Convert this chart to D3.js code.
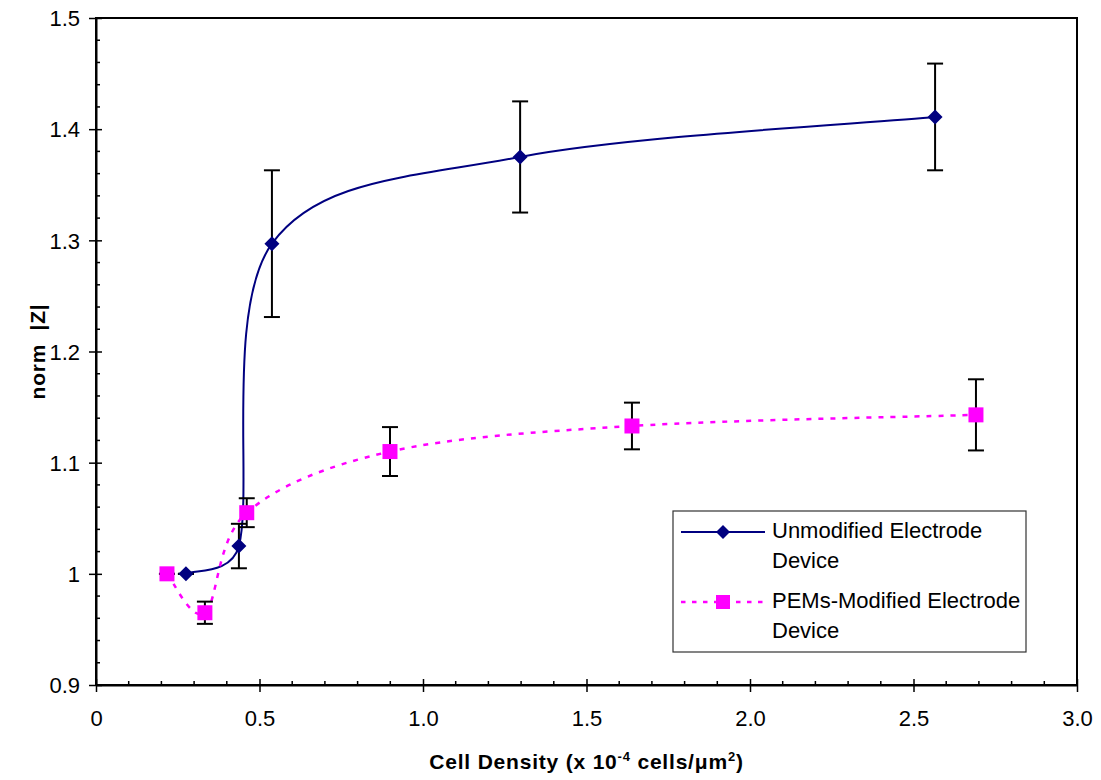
<!DOCTYPE html>
<html>
<head>
<meta charset="utf-8">
<script src="https://cdn.jsdelivr.net/npm/d3@7"></script>
<style>
  html, body { margin: 0; padding: 0; background: #fff; }
  svg { display: block; font-family: "Liberation Sans", Arial, sans-serif; }
</style>
</head>
<body>
<svg id="chart" width="1101" height="780"></svg>
<script>
// Cell density (x 10^-4 cells/um^2) and normalised |Z| for each device
const unmodDensity = [0.275, 0.437, 0.538, 1.297, 2.566];
const unmodZ       = [1.000, 1.025, 1.297, 1.375, 1.411];
const unmodErr     = [0.000, 0.020, 0.066, 0.050, 0.048];

const pemDensity = [0.217, 0.333, 0.461, 0.899, 1.639, 2.691];
const pemZ       = [1.000, 0.965, 1.055, 1.110, 1.133, 1.143];
const pemErr     = [0.000, 0.010, 0.013, 0.022, 0.021, 0.032];

const xTicks = [0, 0.5, 1.0, 1.5, 2.0, 2.5, 3.0];
const yTicks = [0.9, 1.0, 1.1, 1.2, 1.3, 1.4, 1.5];
const xTickLabels = ["0", "0.5", "1.0", "1.5", "2.0", "2.5", "3.0"];
const yTickLabels = ["0.9", "1", "1.1", "1.2", "1.3", "1.4", "1.5"];

const seriesNames = [["Unmodified Electrode", "Device"], ["PEMs-Modified Electrode", "Device"]];

const NAVY = "#000080", MAGENTA = "#FF00FF";

const svg = d3.select("#chart");
const plotL = 96, plotR = 1077, plotT = 18, plotB = 685;

const x = d3.scaleLinear().domain([0, 3]).range([plotL, plotR]);
const y = d3.scaleLinear().domain([0.9, 1.5]).range([plotB, plotT]);

// Spreadsheet-style smoothing: Bezier segments with control points from
// neighbouring points (1/6 of the chord), capped at half the segment length.
function SmoothCurve(context) { this._context = context; }
SmoothCurve.prototype = {
  areaStart() {}, areaEnd() {},
  lineStart() { this._pts = []; },
  point(px, py) { this._pts.push([+px, +py]); },
  lineEnd() {
    const p = this._pts, c = this._context, n = p.length;
    if (!n) return;
    c.moveTo(p[0][0], p[0][1]);
    for (let i = 0; i < n - 1; i++) {
      const p0 = p[Math.max(i - 1, 0)], p1 = p[i], p2 = p[i + 1], p3 = p[Math.min(i + 2, n - 1)];
      const seg = Math.hypot(p2[0] - p1[0], p2[1] - p1[1]);
      const cap = v => {
        const l = Math.hypot(v[0], v[1]);
        return l > seg / 2 ? [v[0] * seg / 2 / l, v[1] * seg / 2 / l] : v;
      };
      const t1 = cap([(p2[0] - p0[0]) / 6, (p2[1] - p0[1]) / 6]);
      const t2 = cap([(p3[0] - p1[0]) / 6, (p3[1] - p1[1]) / 6]);
      c.bezierCurveTo(p1[0] + t1[0], p1[1] + t1[1], p2[0] - t2[0], p2[1] - t2[1], p2[0], p2[1]);
    }
  }
};
const curveSmooth = ctx => new SmoothCurve(ctx);

// Plot frame
svg.append("rect")
  .attr("x", plotL).attr("y", plotT)
  .attr("width", plotR - plotL).attr("height", plotB - plotT)
  .attr("fill", "none").attr("stroke", "#000").attr("stroke-width", 2);

// Minor ticks (inside)
const xMinor = d3.range(0, 3.0001, 0.1).filter(v => Math.abs(v * 2 - Math.round(v * 2)) > 1e-6);
const yMinor = d3.range(0.9, 1.5001, 0.02).filter(v => Math.abs(v * 10 - Math.round(v * 10)) > 1e-6);
svg.append("g").selectAll("line").data(xMinor).join("line")
  .attr("x1", d => x(d)).attr("x2", d => x(d))
  .attr("y1", plotB).attr("y2", plotB - 4)
  .attr("stroke", "#000").attr("stroke-width", 1.5);
svg.append("g").selectAll("line").data(yMinor).join("line")
  .attr("y1", d => y(d)).attr("y2", d => y(d))
  .attr("x1", plotL).attr("x2", plotL + 4)
  .attr("stroke", "#000").attr("stroke-width", 1.5);

// Major axes with crossing ticks
const xAxis = d3.axisBottom(x).tickValues(xTicks)
  .tickFormat((d, i) => xTickLabels[i]).tickSizeInner(6).tickSizeOuter(0);
const gx = svg.append("g").attr("transform", `translate(0,${plotB})`).call(xAxis);
gx.select(".domain").attr("stroke", "#000").attr("stroke-width", 2);
gx.selectAll(".tick line").attr("y1", -6).attr("y2", 7).attr("stroke-width", 1.5);
gx.selectAll(".tick text").attr("y", 25).attr("dy", "0.71em")
  .attr("font-size", 22).attr("fill", "#000").attr("font-family", "Liberation Sans, Arial, sans-serif");

const yAxis = d3.axisLeft(y).tickValues(yTicks)
  .tickFormat((d, i) => yTickLabels[i]).tickSizeInner(6).tickSizeOuter(0);
const gy = svg.append("g").attr("transform", `translate(${plotL},0)`).call(yAxis);
gy.select(".domain").attr("stroke", "#000").attr("stroke-width", 2);
gy.selectAll(".tick line").attr("x1", 6).attr("x2", -7).attr("stroke-width", 1.5);
gy.selectAll(".tick text").attr("x", -16).attr("dy", "0.35em")
  .attr("font-size", 22).attr("fill", "#000").attr("font-family", "Liberation Sans, Arial, sans-serif");

// Axis titles
const xTitle = svg.append("text")
  .attr("x", (plotL + plotR) / 2).attr("y", 769)
  .attr("text-anchor", "middle").attr("font-weight", "bold")
  .attr("font-size", 21).attr("letter-spacing", 0.8);
xTitle.append("tspan").text("Cell Density (x 10");
xTitle.append("tspan").attr("font-size", 13).attr("dy", -8).text("-4");
xTitle.append("tspan").attr("dy", 8).text(" cells/μm");
xTitle.append("tspan").attr("font-size", 13).attr("dy", -8).text("2");
xTitle.append("tspan").attr("dy", 8).text(")");

svg.append("text")
  .attr("transform", `translate(45,${(plotT + plotB) / 2}) rotate(-90)`)
  .attr("text-anchor", "middle").attr("font-weight", "bold")
  .attr("font-size", 21).attr("letter-spacing", 0.8)
  .attr("xml:space", "preserve")
  .text("norm  |Z|");

// Series records
const unmod = unmodDensity.map((d, i) => ({ x: d, y: unmodZ[i], e: unmodErr[i] }));
const pem = pemDensity.map((d, i) => ({ x: d, y: pemZ[i], e: pemErr[i] }));

const line = d3.line().x(d => x(d.x)).y(d => y(d.y)).curve(curveSmooth);

// Lines
svg.append("path").datum(unmod).attr("d", line)
  .attr("fill", "none").attr("stroke", NAVY).attr("stroke-width", 2);
svg.append("path").datum(pem).attr("d", line)
  .attr("fill", "none").attr("stroke", MAGENTA).attr("stroke-width", 2.5)
  .attr("stroke-dasharray", "5 7");

// Error bars
function errorBars(data) {
  const g = svg.append("g").attr("stroke", "#000").attr("stroke-width", 2);
  data.forEach(d => {
    const cx = x(d.x), y0 = y(d.y - d.e), y1 = y(d.y + d.e);
    g.append("line").attr("x1", cx).attr("x2", cx).attr("y1", y0).attr("y2", y1);
    g.append("line").attr("x1", cx - 8).attr("x2", cx + 8).attr("y1", y0).attr("y2", y0);
    g.append("line").attr("x1", cx - 8).attr("x2", cx + 8).attr("y1", y1).attr("y2", y1);
  });
}
errorBars(unmod);
errorBars(pem);

// Markers
const diamond = s => `M0,${-s}L${s},0L0,${s}L${-s},0Z`;
svg.append("g").selectAll("path").data(unmod).join("path")
  .attr("d", diamond(7.5))
  .attr("transform", d => `translate(${x(d.x)},${y(d.y)})`)
  .attr("fill", NAVY);
svg.append("g").selectAll("rect").data(pem).join("rect")
  .attr("x", d => x(d.x) - 7.5).attr("y", d => y(d.y) - 7.5)
  .attr("width", 15).attr("height", 15)
  .attr("fill", MAGENTA);

// Legend
const lg = svg.append("g");
lg.append("rect").attr("x", 673).attr("y", 511).attr("width", 353).attr("height", 141)
  .attr("fill", "#fff").attr("stroke", "#333").attr("stroke-width", 1.2);

const legendRows = [
  { name: seriesNames[0], lineY: 532, textY: 538, color: NAVY },
  { name: seriesNames[1], lineY: 602, textY: 608, color: MAGENTA }
];
legendRows.forEach((r, i) => {
  const l = lg.append("line").attr("x1", 681).attr("x2", 765)
    .attr("y1", r.lineY).attr("y2", r.lineY).attr("stroke", r.color);
  if (i === 0) {
    l.attr("stroke-width", 2);
    lg.append("path").attr("d", diamond(7)).attr("transform", `translate(723,${r.lineY})`).attr("fill", NAVY);
  } else {
    l.attr("stroke-width", 2.5).attr("stroke-dasharray", "4.5 6.5");
    lg.append("rect").attr("x", 716).attr("y", r.lineY - 7).attr("width", 14).attr("height", 14).attr("fill", MAGENTA);
  }
  r.name.forEach((t, k) => {
    lg.append("text").attr("x", 772).attr("y", r.textY + k * 29.5)
      .attr("font-size", 22).attr("fill", "#000").text(t);
  });
});
</script>
</body>
</html>
